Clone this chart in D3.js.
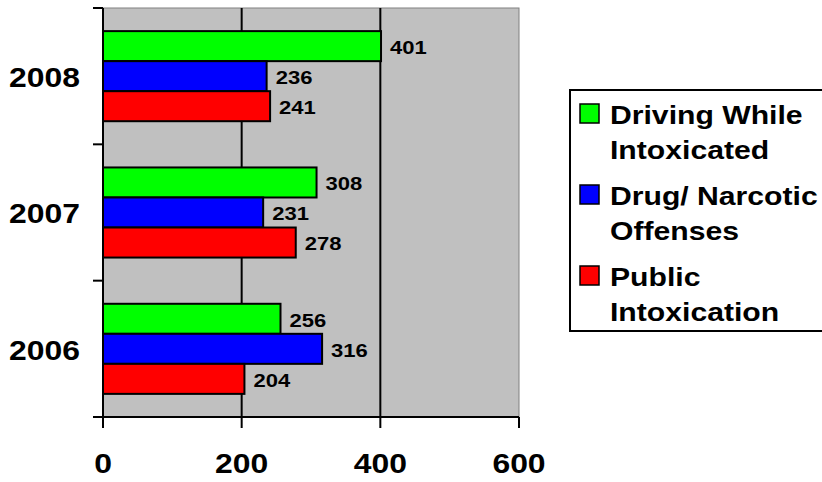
<!DOCTYPE html>
<html>
<head>
<meta charset="utf-8">
<script src="https://cdn.jsdelivr.net/npm/d3@7"></script>
<style>
body{margin:0;background:#fff;}
text{font-family:"Liberation Sans",Arial,sans-serif;font-weight:bold;fill:#000;}
</style>
</head>
<body>
<script>
//data
var years = ["2008", "2007", "2006"];
var series = ["Driving While Intoxicated", "Drug/ Narcotic Offenses", "Public Intoxication"];
var legendLines = [["Driving While", "Intoxicated"], ["Drug/ Narcotic", "Offenses"], ["Public", "Intoxication"]];
var colors = ["#00FF00", "#0000FF", "#FF0000"];
var dwi = [401, 308, 256];
var drug = [236, 231, 316];
var pub = [241, 278, 204];
var xTicks = [0, 200, 400, 600];
//end data

var W = 822, H = 482;
var sx = 1.16; // text looks stretched sideways
var svg = d3.select("body").append("svg").attr("width", W).attr("height", H);

var x = d3.scaleLinear().domain([0, 600]).range([103, 519]);
var y = d3.scaleBand().domain(years).range([8, 417]);
var yi = d3.scaleBand().domain(series).range([0, y.bandwidth()]).paddingInner(0).paddingOuter(0.77);

var values = [dwi, drug, pub];
var rows = [];
years.forEach(function (yr, i) {
    series.forEach(function (s, j) {
        rows.push({year: yr, s: s, v: values[j][i], col: colors[j]});
    });
});

function label(g, tx, ty, str, size, anchor) {
    g.append("g")
        .attr("transform", "translate(" + tx + "," + ty + ") scale(" + sx + ",1)")
        .append("text")
        .attr("text-anchor", anchor)
        .attr("dominant-baseline", "central")
        .style("font-size", size + "px")
        .text(str);
}

// plot background
svg.append("rect")
    .attr("x", x(0)).attr("y", 8)
    .attr("width", x(600) - x(0)).attr("height", 417 - 8)
    .attr("fill", "#C0C0C0")
    .attr("stroke", "#808080").attr("stroke-width", 1);

// grid
svg.selectAll("line.grid").data([200, 400]).enter().append("line")
    .attr("class", "grid")
    .attr("x1", function (d) { return x(d); }).attr("x2", function (d) { return x(d); })
    .attr("y1", 8).attr("y2", 417)
    .attr("stroke", "#000").attr("stroke-width", 2);

// bars
svg.selectAll("rect.bar").data(rows).enter().append("rect")
    .attr("class", "bar")
    .attr("x", x(0))
    .attr("y", function (d) { return y(d.year) + yi(d.s); })
    .attr("width", function (d) { return x(d.v) - x(0); })
    .attr("height", yi.bandwidth())
    .attr("fill", function (d) { return d.col; })
    .attr("stroke", "#000").attr("stroke-width", 2);

rows.forEach(function (d) {
    label(svg, x(d.v) + 9, y(d.year) + yi(d.s) + yi.bandwidth() / 2 + 1, d.v, 19, "start");
});

// axes
svg.append("line").attr("x1", x(0)).attr("x2", x(0)).attr("y1", 8).attr("y2", 417)
    .attr("stroke", "#000").attr("stroke-width", 2);
svg.append("line").attr("x1", 93).attr("x2", x(600)).attr("y1", 417).attr("y2", 417)
    .attr("stroke", "#000").attr("stroke-width", 2);

var bounds = years.map(function (d) { return y(d); }).concat([417]);
svg.selectAll("line.yt").data(bounds).enter().append("line")
    .attr("x1", 93).attr("x2", x(0))
    .attr("y1", function (d) { return d; }).attr("y2", function (d) { return d; })
    .attr("stroke", "#000").attr("stroke-width", 2);

svg.selectAll("line.xt").data(xTicks).enter().append("line")
    .attr("x1", function (d) { return x(d); }).attr("x2", function (d) { return x(d); })
    .attr("y1", 417).attr("y2", 428)
    .attr("stroke", "#000").attr("stroke-width", 2);

xTicks.forEach(function (t) { label(svg, x(t), 463, t, 27.5, "middle"); });
years.forEach(function (yr) { label(svg, 80, y(yr) + y.bandwidth() / 2 + 1, yr, 27.5, "end"); });

// legend
svg.append("rect").attr("x", 570).attr("y", 90).attr("width", 270).attr("height", 241)
    .attr("fill", "#fff").attr("stroke", "#000").attr("stroke-width", 2);
legendLines.forEach(function (lines, i) {
    var cy = 114 + i * 81;
    svg.append("rect").attr("x", 580).attr("y", cy - 10).attr("width", 19).attr("height", 19)
        .attr("fill", colors[i]).attr("stroke", "#000").attr("stroke-width", 1.5);
    label(svg, 610, cy + 1, lines[0], 26, "start");
    label(svg, 610, cy + 36, lines[1], 26, "start");
});
</script>
</body>
</html>
